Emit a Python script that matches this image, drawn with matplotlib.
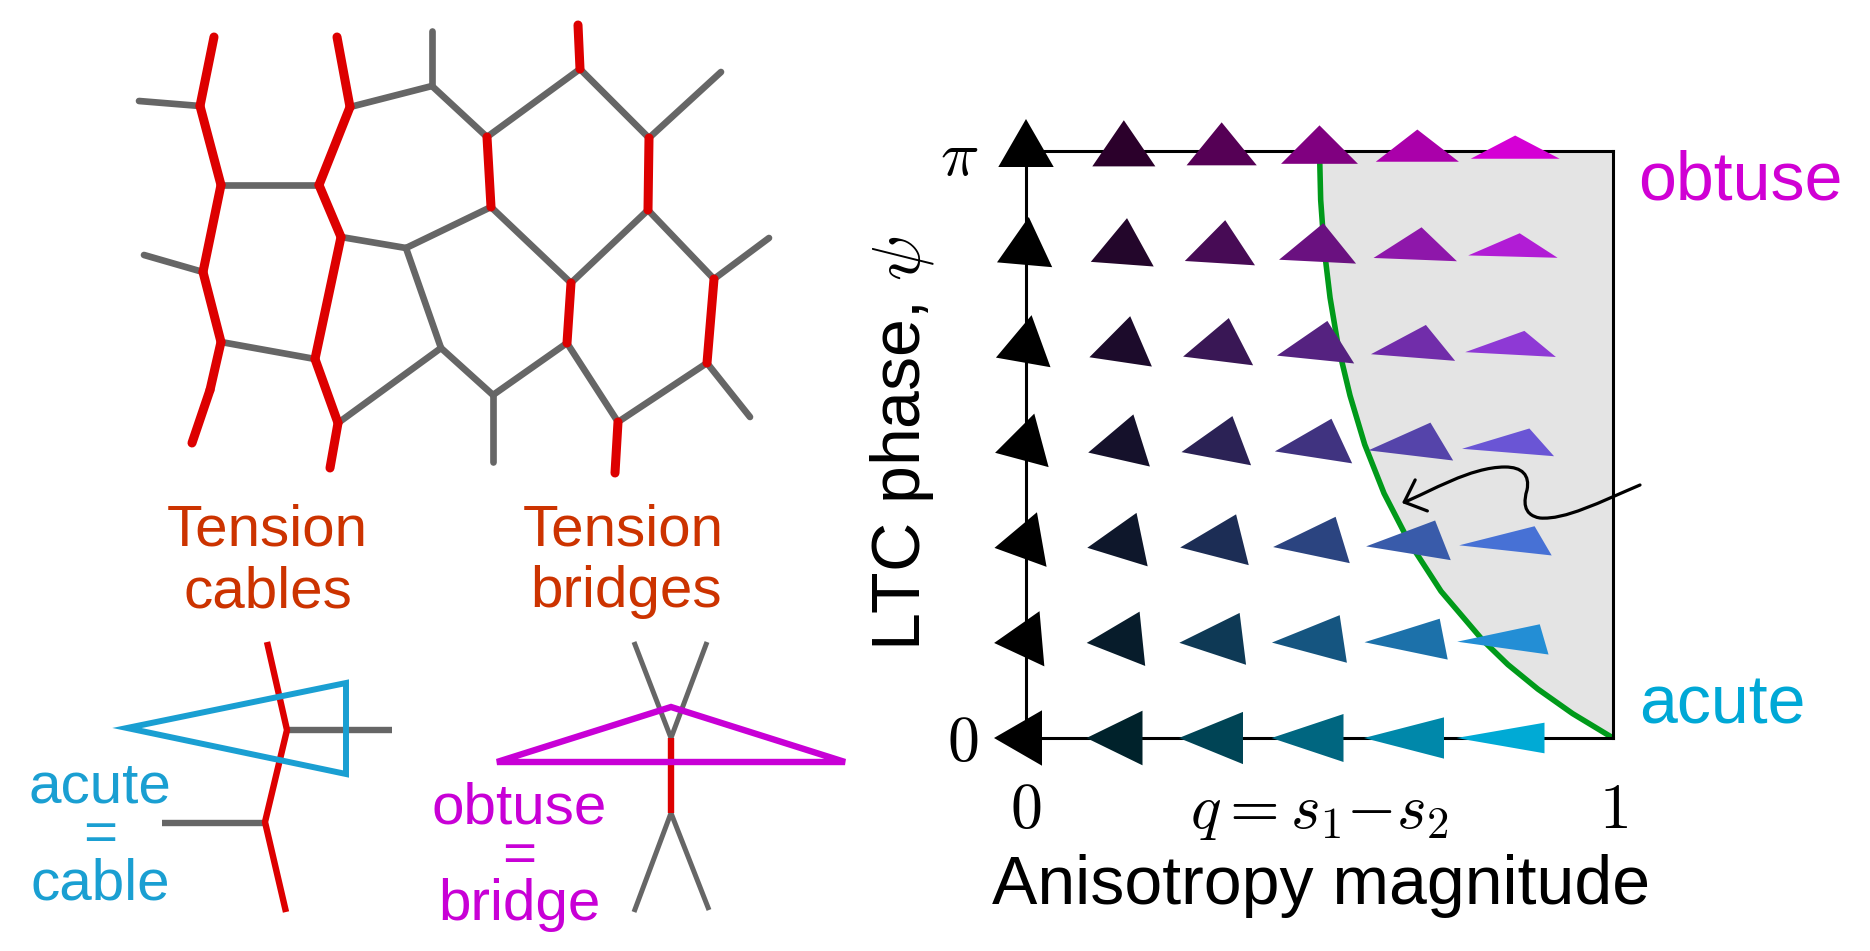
import numpy as np
import matplotlib
matplotlib.use("Agg")
import matplotlib.pyplot as plt
import matplotlib.transforms as mtransforms
from matplotlib.patches import Polygon, FancyArrowPatch
from matplotlib.path import Path

plt.rcParams['font.family'] = ['Liberation Sans', 'DejaVu Sans']
plt.rcParams['mathtext.fontset'] = 'cm'

# --- phase diagram data ---
q_values = [0, 1 / 6, 2 / 6, 3 / 6, 4 / 6, 5 / 6]
psi_values = [0, np.pi / 6, np.pi / 3, np.pi / 2, 2 * np.pi / 3, 5 * np.pi / 6, np.pi]
x_ticks = [0, 0.5, 1]
x_ticklabels = ['$0$', '$q = s_1{-}s_2$', '$1$']
y_ticks = [0, np.pi]
y_ticklabels = ['$0$', r'$\pi$']

# acute/obtuse boundary
boundary_psi = [0, np.pi / 24, np.pi / 12, np.pi / 8, np.pi / 6, np.pi / 4, np.pi / 3,
                5 * np.pi / 12, np.pi / 2, 7 * np.pi / 12, 2 * np.pi / 3, 3 * np.pi / 4,
                5 * np.pi / 6, 11 * np.pi / 12, np.pi]
boundary_q = [1.0, 0.931, 0.872, 0.821, 0.778, 0.707, 0.653,
              0.610, 0.577, 0.552, 0.532, 0.518,
              0.508, 0.502, 0.500]

# --- network sketch (pixel coords, y down) ---
nodes = {
    'a0': (214, 37), 'a1': (200, 106), 'a2': (221, 185), 'a3': (203, 272), 'a4': (221, 342),
    'a4b': (210, 390), 'a5': (192, 443),
    'b0': (337, 37), 'b1': (350, 107), 'b2': (319, 185), 'b3': (341, 237), 'b4': (315, 359),
    'b5': (338, 423), 'b6': (330, 468),
    's1': (139, 101), 's2': (144, 255),
    'c0': (432, 31), 'c1': (432, 86), 'd': (487, 137), 'e': (491, 207),
    'f0': (578, 25), 'f': (580, 69), 'g': (649, 138), 'g1': (721, 72), 'h': (648, 210),
    'i': (406, 248), 'j': (441, 348), 'k': (571, 283), 'l': (567, 343),
    'm': (493, 395), 'm1': (493, 462), 'n': (714, 279), 'n1': (769, 238),
    'o': (707, 363), 'o1': (750, 417), 'p': (618, 422), 'p1': (615, 473),
}
red_edges = [('a0', 'a1'), ('a1', 'a2'), ('a2', 'a3'), ('a3', 'a4'), ('a4', 'a4b'), ('a4b', 'a5'),
             ('b0', 'b1'), ('b1', 'b2'), ('b2', 'b3'), ('b3', 'b4'), ('b4', 'b5'), ('b5', 'b6'),
             ('d', 'e'), ('f0', 'f'), ('g', 'h'), ('k', 'l'), ('n', 'o'), ('p', 'p1')]
gray_edges = [('s1', 'a1'), ('s2', 'a3'), ('a2', 'b2'), ('a4', 'b4'), ('b1', 'c1'), ('c0', 'c1'),
              ('c1', 'd'), ('d', 'f'), ('f', 'g'), ('g', 'g1'), ('b3', 'i'), ('i', 'e'), ('i', 'j'),
              ('e', 'k'), ('h', 'k'), ('j', 'b5'), ('j', 'm'), ('m', 'm1'), ('l', 'm'), ('h', 'n'),
              ('n', 'n1'), ('o', 'o1'), ('o', 'p'), ('l', 'p')]

# small cable / bridge sketches
cable_red = [(267, 642), (287, 730), (265, 822), (286, 912)]
cable_gray = [[(287, 730), (392, 730)], [(162, 823), (265, 823)]]
cable_tri = [(127, 728), (346, 683), (346, 774)]
bridge_gray = [[(634, 642), (671, 738)], [(707, 642), (671, 738)],
               [(671, 813), (634, 912)], [(671, 813), (709, 910)]]
bridge_red = [(671, 738), (671, 813)]
bridge_tri = [(497, 762), (671, 707), (845, 762)]

RED = '#dd0000'
GRAY = '#666666'
BLUE = '#1a9fd2'
MAGENTA = '#c800d6'
ORANGE = '#cc3300'


def triangle_verts(q, psi, r=0.32):
    # equilateral triangle turned by psi/6, then stretched along x by the anisotropy
    ang = np.pi + psi / 6 + np.array([0, 2, 4]) * np.pi / 3
    size = r * (1 - 0.15 * q * (1 - np.cos(psi)) / 2)
    x = size * (1 + q) * np.cos(ang)
    y = size * np.sqrt(1 - q ** 2) * np.sin(ang)
    return np.column_stack([x, y])


def triangle_color(q, psi):
    t = psi / np.pi
    return (q * t, q * 0.8 * (1 - t), q)


fig = plt.figure(figsize=(18.7, 9.51), dpi=100)

# right panel
ax = fig.add_axes([1026 / 1870, 1 - 738 / 951, 587 / 1870, 587 / 951])
ax.set_xlim(0, 1)
ax.set_ylim(0, np.pi)
for sp in ax.spines.values():
    sp.set_linewidth(2.2)
ax.fill_betweenx(boundary_psi, boundary_q, 1, color='#e4e4e4', lw=0, zorder=0.5)
ax.plot(boundary_q, boundary_psi, color='#009a1a', lw=4.0, zorder=2)

for psi in psi_values:
    for q in q_values:
        trans = fig.dpi_scale_trans + mtransforms.ScaledTranslation(q, psi, ax.transData)
        ax.add_patch(Polygon(triangle_verts(q, psi), closed=True, facecolor=triangle_color(q, psi),
                             edgecolor='none', transform=trans, clip_on=False, zorder=3))

ax.tick_params(length=0)
ax.set_xticks(x_ticks, x_ticklabels, fontsize=46, va='baseline')
ax.set_yticks(y_ticks, y_ticklabels, fontsize=46)
ax.tick_params(axis='x', pad=65)
ax.tick_params(axis='y', pad=34)
ax.set_xlabel('Anisotropy magnitude', fontsize=49, va='baseline')
ax.xaxis.set_label_coords(0.5026, -0.2828)
ax.set_ylabel(r'LTC phase, $\psi$', fontsize=49, va='baseline')
ax.yaxis.set_label_coords(-0.1806, 0.5026)

# overlay in pixel coordinates for the sketches and free labels
ov = fig.add_axes([0, 0, 1, 1])
ov.set_xlim(0, 1870)
ov.set_ylim(951, 0)
ov.axis('off')
ov.patch.set_visible(False)

for a, b in gray_edges:
    (x0, y0), (x1, y1) = nodes[a], nodes[b]
    ov.plot([x0, x1], [y0, y1], color=GRAY, lw=4.8, solid_capstyle='round', zorder=1)
for a, b in red_edges:
    (x0, y0), (x1, y1) = nodes[a], nodes[b]
    ov.plot([x0, x1], [y0, y1], color=RED, lw=6.5, solid_capstyle='round', zorder=2)

for seg in cable_gray:
    ov.plot(*zip(*seg), color=GRAY, lw=4.6, solid_capstyle='butt', zorder=1)
ov.plot(*zip(*cable_red), color=RED, lw=4.6, solid_capstyle='butt', zorder=2)
ov.add_patch(Polygon(cable_tri, closed=True, fill=False, edgecolor=BLUE, lw=4.3, zorder=3))
for seg in bridge_gray:
    ov.plot(*zip(*seg), color=GRAY, lw=3.6, solid_capstyle='butt', zorder=1)
ov.plot(*zip(*bridge_red), color=RED, lw=4.6, solid_capstyle='butt', zorder=2)
ov.add_patch(Polygon(bridge_tri, closed=True, fill=False, edgecolor=MAGENTA, lw=4.6, zorder=3))

txt = dict(ha='center', va='baseline', fontsize=42)
ov.text(267, 545, 'Tension', color=ORANGE, **txt)
ov.text(268, 607, 'cables', color=ORANGE, **txt)
ov.text(623, 545, 'Tension', color=ORANGE, **txt)
ov.text(626, 607, 'bridges', color=ORANGE, **txt)
# multi-line text: baseline alignment goes to the last line
ov.text(100, 899, 'acute\n=\ncable', color=BLUE, linespacing=0.86, **txt)
ov.text(519, 920, 'obtuse\n=\nbridge', color=MAGENTA, linespacing=0.86, **txt)

ov.text(1638, 199, 'obtuse', color='#d000d4', ha='left', va='baseline', fontsize=49)
ov.text(1639, 723, 'acute', color='#00a8d6', ha='left', va='baseline', fontsize=49)

# wavy arrow pointing at the boundary
verts = [(1640, 485),
         (1600, 502), (1565, 520), (1540, 518),
         (1522, 515), (1524, 500), (1527, 490),
         (1530, 475), (1522, 467), (1505, 467),
         (1470, 467), (1430, 492), (1402, 503)]
codes = [Path.MOVETO] + [Path.CURVE4] * 12
ov.add_patch(FancyArrowPatch(path=Path(verts, codes), arrowstyle='->,head_length=1.1,head_width=1.0',
                             mutation_scale=12, color='black', lw=2.3, zorder=5))

fig.savefig('out.png', dpi=100)
